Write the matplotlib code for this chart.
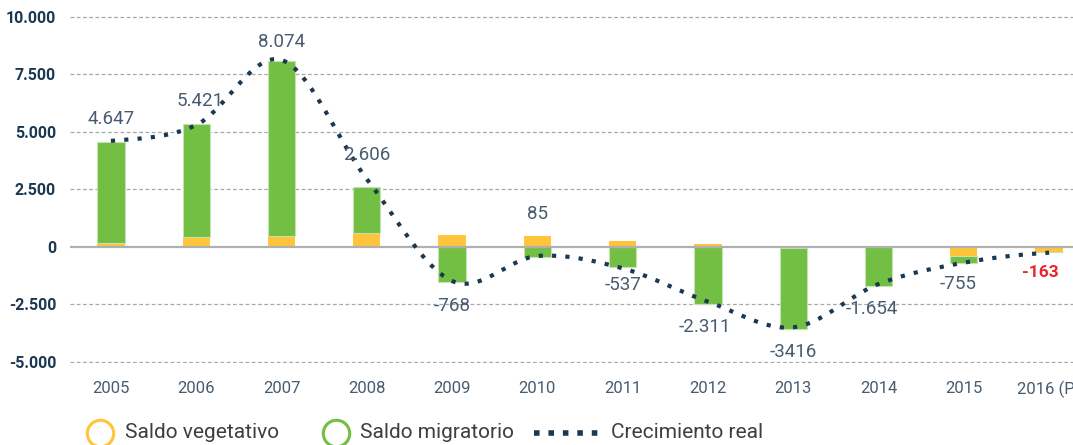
import numpy as np
import matplotlib
matplotlib.use("Agg")
import matplotlib.pyplot as plt
from matplotlib.lines import Line2D

# Data
years = ["2005", "2006", "2007", "2008", "2009", "2010",
         "2011", "2012", "2013", "2014", "2015", "2016 (P)"]
saldo_vegetativo = [150, 430, 480, 610, 520, 460, 250, 120, -60, 0, -390, -220]
saldo_migratorio = [4400, 4900, 7590, 1970, -1520, -430, -900, -2500, -3520, -1710, -330, -20]
crecimiento_real = [4600, 5290, 8117, 2943, -1490, -404, -940, -2390, -3505, -1622, -695, -260]
etiquetas = ["4.647", "5.421", "8.074", "2.606", "-768", "85",
             "-537", "-2.311", "-3416", "-1.654", "-755", "-163"]

# label offsets (points) relative to the line point
label_dx = [0, 3, 0, 0, 0, 0, 0, -2, 0, -5, -4, -6]
label_dy = [16, 17, 13, 17, -18, 30, -12, -18, -18, -18, -15, -14]

YELLOW = "#FFC43A"
GREEN = "#72BF44"
NAVY = "#1b3852"
LABEL = "#485b6f"

plt.rcParams["font.family"] = ["Roboto", "DejaVu Sans"]

W, H = 1073, 445
fig = plt.figure(figsize=(W / 100, H / 100), dpi=100)
ax = fig.add_axes([70 / W, 1 - 362.85 / H, (W - 70) / W, (362.85 - 15.55) / H])

x = np.arange(len(years))
veg = np.array(saldo_vegetativo, dtype=float)
mig = np.array(saldo_migratorio, dtype=float)
# stack migratorio on vegetativo when they share sign, otherwise from zero
mig_bottom = np.where(np.sign(veg) == np.sign(mig), veg, 0)

bw = 0.32
ax.bar(x, veg, width=bw, color=YELLOW, zorder=2)
ax.bar(x, mig, width=bw, bottom=mig_bottom, color=GREEN,
       edgecolor="#c4e3b0", linewidth=0.8, zorder=2)

# grid
for v in [10000, 7500, 5000, 2500, -2500, -5000]:
    ax.axhline(v, color="#a8a8a8", lw=0.9, ls=(0, (3, 2)), zorder=1)
ax.axhline(0, color="#b0b0b0", lw=1.6, zorder=3)

# smooth dotted line (Catmull-Rom through the points)
yv = np.array(crecimiento_real, dtype=float)
pts = np.concatenate([[yv[0]], yv, [yv[-1]]])
xs, ys = [], []
for i in range(len(yv) - 1):
    p0, p1, p2, p3 = pts[i], pts[i + 1], pts[i + 2], pts[i + 3]
    t = np.linspace(0, 1, 40, endpoint=False)
    seg = 0.5 * (2 * p1 + (-p0 + p2) * t + (2 * p0 - 5 * p1 + 4 * p2 - p3) * t ** 2
                 + (-p0 + 3 * p1 - 3 * p2 + p3) * t ** 3)
    xs.extend(i + t)
    ys.extend(seg)
xs.append(len(yv) - 1)
ys.append(yv[-1])
ax.plot(xs, ys, color=NAVY, lw=3, ls=(0, (1, 2.2)), dash_capstyle="butt", zorder=4)

# value labels
for i, txt in enumerate(etiquetas):
    last = i == len(etiquetas) - 1
    ax.annotate(txt, (x[i], yv[i]), xytext=(label_dx[i], label_dy[i]),
                textcoords="offset points", ha="center", va="center",
                fontsize=13.5 if not last else 12.5,
                fontweight="bold" if last else "normal",
                color="#e8262b" if last else LABEL, zorder=5)

ax.set_xlim(-0.48, 11.28)
ax.set_ylim(-5050, 10050)
ax.set_yticks([10000, 7500, 5000, 2500, 0, -2500, -5000])
ax.set_yticklabels(["10.000", "7.500", "5.000", "2.500", "0", "-2.500", "-5.000"],
                   fontsize=11.5, fontweight="bold", color=NAVY)
ax.set_xticks(x)
ax.set_xticklabels(years, fontsize=12, color=LABEL)
ax.tick_params(axis="both", length=0)
ax.tick_params(axis="y", pad=10)
ax.tick_params(axis="x", pad=13)
for s in ax.spines.values():
    s.set_visible(False)

# legend drawn at figure level
ly = 1 - 433 / H
TXT = "#3b3f44"
fig.add_artist(Line2D([100 / W], [ly], marker="o", markersize=19, markerfacecolor="none",
                      markeredgecolor=YELLOW, markeredgewidth=2.2, transform=fig.transFigure))
fig.text(125 / W, ly, "Saldo vegetativo", fontsize=15, color=TXT, va="center")
fig.add_artist(Line2D([336 / W], [ly], marker="o", markersize=19, markerfacecolor="none",
                      markeredgecolor=GREEN, markeredgewidth=2.2, transform=fig.transFigure))
fig.text(360 / W, ly, "Saldo migratorio", fontsize=15, color=TXT, va="center")
fig.add_artist(Line2D([534 / W, 598 / W], [ly, ly], color=NAVY, lw=4, ls=(0, (1, 1.6)),
                      dash_capstyle="butt", transform=fig.transFigure))
fig.text(611 / W, ly, "Crecimiento real", fontsize=15, color=TXT, va="center")

fig.savefig("out.png", dpi=100)
